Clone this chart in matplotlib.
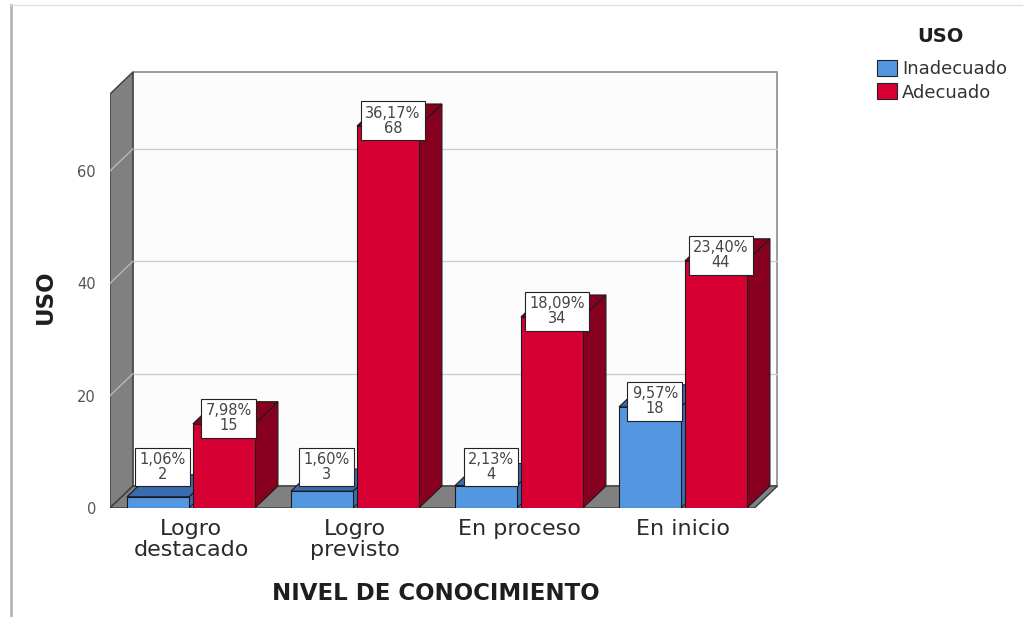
import matplotlib.pyplot as plt
from matplotlib.patches import Polygon, Rectangle, Patch
from matplotlib.lines import Line2D

# datos (conteos por nivel y uso)
categorias = ["Logro\ndestacado", "Logro\nprevisto", "En proceso", "En inicio"]
inadecuado = [2, 3, 4, 18]
adecuado = [15, 68, 34, 44]
yticks = [0, 20, 40, 60]
total = sum(inadecuado) + sum(adecuado)

# colores tipo SPSS
azul, azul_osc = "#5596E1", "#3A6BAF"
rojo, rojo_osc = "#D60032", "#870020"

# geometria de la pseudo 3D
dx, dy = 0.14, 3.92
xr = 3.93
top = 73.7
w = 0.378
gap = 0.012
pos = [i + 0.494 for i in range(len(categorias))]

fig = plt.figure(figsize=(10.25, 6.18), dpi=100)
fig.patch.set_facecolor("white")
ax = fig.add_axes([110 / 1025, 110 / 618, 688.8 / 1025, 449.4 / 618])
ax.set_xlim(0, 4.2)
ax.set_ylim(0, 80)
for s in ax.spines.values():
    s.set_visible(False)
ax.set_facecolor("none")

# pared del fondo, pared izquierda, piso
ax.add_patch(Polygon([(dx, dy), (xr + dx, dy), (xr + dx, top + dy), (dx, top + dy)],
                     closed=True, fc="#fcfcfc", ec="#8a8a8a", lw=1.2, zorder=1))
ax.add_patch(Polygon([(0, 0), (dx, dy), (dx, top + dy), (0, top)],
                     closed=True, fc="#808080", ec="#3c3c3c", lw=1.0, zorder=2))
ax.add_patch(Polygon([(0, 0), (xr, 0), (xr + dx, dy), (dx, dy)],
                     closed=True, fc="#808080", ec="#3c3c3c", lw=1.0, zorder=2))
for v in yticks[1:]:
    ax.plot([dx, xr + dx], [v + dy, v + dy], color="#cfcfcf", lw=1.0, zorder=1.5)
    ax.plot([0, dx], [v, v + dy], color="#b8b8b8", lw=1.0, zorder=2.5)


def barra3d(x0, h, c_front, c_dark, z):
    x1 = x0 + w
    ax.add_patch(Polygon([(x1, 0), (x1 + dx, dy), (x1 + dx, h + dy), (x1, h)],
                         closed=True, fc=c_dark, ec="#1a1a1a", lw=0.8, zorder=z))
    ax.add_patch(Polygon([(x0, h), (x1, h), (x1 + dx, h + dy), (x0 + dx, h + dy)],
                         closed=True, fc=c_dark, ec="#1a1a1a", lw=0.8, zorder=z))
    ax.add_patch(Rectangle((x0, 0), w, h, fc=c_front, ec="#1a1a1a", lw=0.8, zorder=z))


def etiqueta(xc, h):
    pct = f"{h / total * 100:.2f}".replace(".", ",") + "%"
    yl = max(h + dy * 0.25, 7.3)
    ax.text(xc + 0.03, yl, f"{pct}\n{h}", ha="center", va="center", fontsize=10.5,
            color="#454545", linespacing=1.0, zorder=20,
            bbox=dict(boxstyle="square,pad=0.3", fc="white", ec="#222222", lw=0.8))


for i, p in enumerate(pos):
    xb = p - gap - w
    xa = p + gap
    barra3d(xb, inadecuado[i], azul, azul_osc, 5 + i)
    barra3d(xa, adecuado[i], rojo, rojo_osc, 5.5 + i)
    etiqueta(xb + w / 2, inadecuado[i])
    etiqueta(xa + w / 2, adecuado[i])

ax.set_yticks(yticks)
ax.set_yticklabels([str(v) for v in yticks], fontsize=10.5, color="#555555")
ax.set_xticks(pos)
ax.set_xticklabels(categorias, fontsize=16, color="#2a2a2a", linespacing=1.07)
ax.tick_params(axis="both", length=0)
ax.tick_params(axis="y", pad=10)
ax.tick_params(axis="x", pad=8)

ax.set_xlabel("NIVEL DE CONOCIMIENTO", fontsize=16.5, fontweight="bold", color="#1e1e1e")
ax.xaxis.set_label_coords(0.473, -0.191)
ax.xaxis.label.set_va("center")
ax.set_ylabel("USO", fontsize=16.5, fontweight="bold", color="#1e1e1e")
ax.yaxis.set_label_coords(-0.094, 0.47)
ax.yaxis.label.set_va("center")

# leyenda
fig.text(940 / 1025, 1 - 36 / 618, "USO", ha="center", va="center",
         fontsize=14, fontweight="bold", color="#1e1e1e")
handles = [Patch(fc=azul, ec="#222222", lw=0.8, label="Inadecuado"),
           Patch(fc=rojo, ec="#222222", lw=0.8, label="Adecuado")]
leg = fig.legend(handles=handles, loc="upper left",
                 bbox_to_anchor=(877 / 1025, 1 - 60 / 618), frameon=False,
                 fontsize=13, handlelength=1.1, handleheight=1.0, handletextpad=0.3,
                 labelspacing=0.28, borderaxespad=0, borderpad=0)
for t in leg.get_texts():
    t.set_color("#333333")

# marco de la captura
fig.add_artist(Line2D([11 / 1025, 11 / 1025], [3 / 618, 1 - 5 / 618],
                      transform=fig.transFigure, color="#b5b5b5", lw=2))
fig.add_artist(Line2D([11 / 1025, 1 - 3 / 1025], [1 - 5 / 618, 1 - 5 / 618],
                      transform=fig.transFigure, color="#e2e2e2", lw=1))

fig.savefig("out.png", dpi=100)
